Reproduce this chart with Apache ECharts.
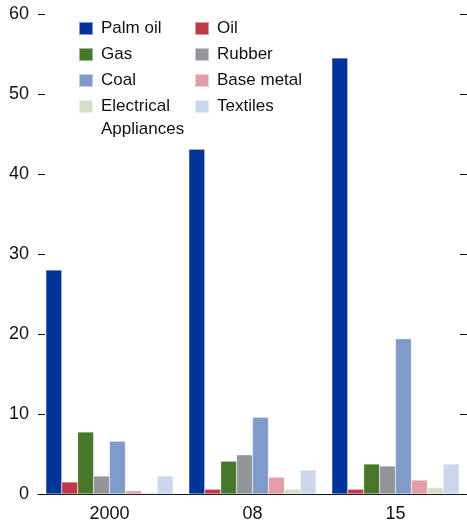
<!DOCTYPE html>
<html>
<head>
<meta charset="utf-8">
<script src="https://cdn.jsdelivr.net/npm/echarts@6/dist/echarts.min.js"></script>
<style>
    html, body { margin: 0; padding: 0; background: #fff; }
    #main { width: 467px; height: 525px; }
</style>
</head>
<body>
<div id="main"></div>
<script>
// 年份
let years = ['2000', '08', '15'];
// 各品类数值
let palmOil = [28, 43.1, 54.5];
let oil = [1.5, 0.6, 0.6];
let gas = [7.75, 4.1, 3.75];
let rubber = [2.25, 4.9, 3.5];
let coal = [6.6, 9.6, 19.4];
let baseMetal = [0.4, 2.1, 1.75];
let electrical = [0.2, 0.6, 0.8];
let textiles = [2.25, 3.0, 3.75];
let yTicks = [0, 10, 20, 30, 40, 50, 60];

let font = '"Liberation Sans", Arial, sans-serif';

let seriesList = [
    { name: 'Palm oil', data: palmOil, color: '#00349a' },
    { name: 'Oil', data: oil, color: '#c0394b' },
    { name: 'Gas', data: gas, color: '#46772a' },
    { name: 'Rubber', data: rubber, color: '#939598' },
    { name: 'Coal', data: coal, color: '#7f9bc9' },
    { name: 'Base metal', data: baseMetal, color: '#e29ea6' },
    { name: 'Electrical Appliances', data: electrical, color: '#d3dfc8' },
    { name: 'Textiles', data: textiles, color: '#cbd7ea' }
];

let chart = echarts.init(document.getElementById('main'), null, { renderer: 'canvas' });

let legendBase = {
    orient: 'vertical',
    top: 20,
    padding: 0,
    itemWidth: 14,
    itemHeight: 13,
    itemGap: 9,
    icon: 'rect',
    textStyle: {
        fontFamily: font,
        fontSize: 17,
        color: '#111',
        padding: [0, 0, 0, 3]
    }
};

const option = {
    animation: false,
    backgroundColor: '#fff',
    textStyle: { fontFamily: font },
    legend: [
        Object.assign({}, legendBase, {
            left: 78,
            data: ['Palm oil', 'Gas', 'Coal']
        }),
        Object.assign({}, legendBase, {
            left: 194,
            data: ['Oil', 'Rubber', 'Base metal', 'Textiles']
        }),
        // 两行文字，图标对齐第一行
        Object.assign({}, legendBase, {
            left: 78,
            top: 72,
            data: ['Electrical Appliances'],
            textStyle: Object.assign({}, legendBase.textStyle, { lineHeight: 23 }),
            formatter: function (name) {
                return ' \nElectrical\nAppliances';
            }
        })
    ],
    grid: {
        left: 38,
        top: 14,
        width: 431,
        bottom: 31
    },
    xAxis: {
        type: 'category',
        data: years,
        axisLine: { lineStyle: { color: '#111', width: 1 } },
        axisTick: { inside: true, length: 7, lineStyle: { color: '#111' } },
        axisLabel: {
            color: '#111',
            fontFamily: font,
            fontSize: 18,
            margin: 11
        }
    },
    yAxis: [
        {
            type: 'value',
            min: yTicks[0],
            max: yTicks[yTicks.length - 1],
            interval: 10,
            axisLine: { show: false },
            axisTick: { show: true, inside: true, length: 7, lineStyle: { color: '#111' } },
            splitLine: { show: false },
            axisLabel: {
                color: '#111',
                fontFamily: font,
                fontSize: 18,
                margin: 9
            }
        },
        {
            type: 'value',
            position: 'right',
            min: yTicks[0],
            max: yTicks[yTicks.length - 1],
            interval: 10,
            axisLine: { show: false },
            axisTick: { show: true, inside: true, length: 7, lineStyle: { color: '#111' } },
            splitLine: { show: false },
            axisLabel: { show: false }
        }
    ],
    series: seriesList.map(function (s) {
        return {
            name: s.name,
            type: 'bar',
            data: s.data,
            barGap: '0%',
            barCategoryGap: '11%',
            itemStyle: {
                color: s.color,
                borderColor: 'rgba(255,255,255,0.5)',
                borderWidth: 0.5
            }
        };
    })
};
chart.setOption(option);
</script>
</body>
</html>
